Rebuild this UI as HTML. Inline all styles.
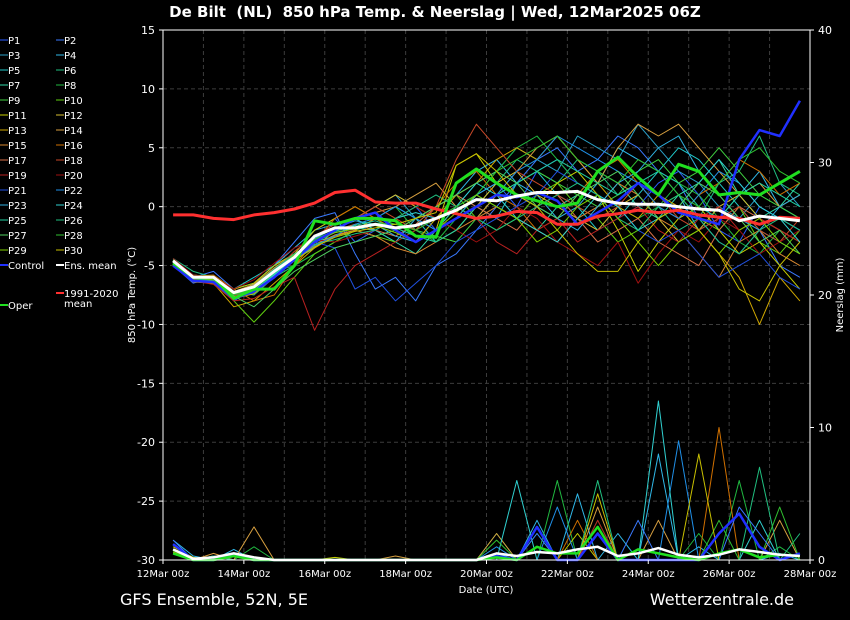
<!DOCTYPE html>
<html><head><meta charset="utf-8">
<style>
html,body{margin:0;padding:0;background:#000;}
body{width:850px;height:620px;overflow:hidden;position:relative;font-family:"Liberation Sans","DejaVu Sans",sans-serif;color:#fff;}
svg{position:absolute;left:0;top:0;}
</style></head>
<body>
<svg id="chart" width="850" height="620" xmlns="http://www.w3.org/2000/svg">
<text x="435" y="17" fill="#fff" font-size="15" font-weight="bold" text-anchor="middle" style="white-space:pre" font-family="DejaVu Sans, sans-serif">De Bilt  (NL)  850 hPa Temp. &amp; Neerslag | Wed, 12Mar2025 06Z</text>
<text transform="translate(135,295) rotate(-90)" fill="#fff" font-size="10" text-anchor="middle" font-family="DejaVu Sans, sans-serif">850 hPa Temp. (°C)</text>
<text transform="translate(843,295) rotate(-90)" fill="#fff" font-size="10" text-anchor="middle" font-family="DejaVu Sans, sans-serif">Neerslag (mm)</text>
<text x="486" y="593" fill="#fff" font-size="10" text-anchor="middle" font-family="DejaVu Sans, sans-serif">Date (UTC)</text>
<text x="120" y="605" fill="#fff" font-size="16" font-family="DejaVu Sans, sans-serif">GFS Ensemble, 52N, 5E</text>
<text x="794" y="605" fill="#fff" font-size="16" text-anchor="end" font-family="DejaVu Sans, sans-serif">Wetterzentrale.de</text>
<g id="grid"></g><g id="prec"></g><g id="temp"></g><g id="axes"></g><g id="legend"></g>
</svg>
<script>
const NS="http://www.w3.org/2000/svg";
const xLabels=["12Mar 00z","14Mar 00z","16Mar 00z","18Mar 00z","20Mar 00z","22Mar 00z","24Mar 00z","26Mar 00z","28Mar 00z"];
const yTicks=[15,10,5,0,-5,-10,-15,-20,-25,-30];
const y2Ticks=[0,10,20,30,40];
const memberNames=["P1","P2","P3","P4","P5","P6","P7","P8","P9","P10","P11","P12","P13","P14","P15","P16","P17","P18","P19","P20","P21","P22","P23","P24","P25","P26","P27","P28","P29","P30"];
const memberColors=["#2a5cff","#3a7aff","#2aa0c8","#30b8e8","#20c8c8","#20c080","#30d8a8","#20b840","#40d040","#60d010","#c8d000","#d8c030","#d0a800","#d8a040","#d88830","#d07000","#d87048","#c84828","#b82020","#a01010","#2050e0","#2090e8","#30b0e0","#30d0d0","#20d0a0","#20c080","#50d060","#30c030","#80d000","#c8c000"];
const members=[
[-5,-6.5,-6,-8,-7,-6,-4,-2,-1,-3,-2,-1,0,-2,-1,1,2,0,3,4,2,1,-1,0,2,3,1,-2,-3,0,-1,-2],
[-4.5,-6,-5.5,-7,-6.5,-5,-3,-1,-0.5,-4,-7,-6,-8,-5,-4,-2,0,2,4,5,3,4,6,5,3,2,-1,-3,-4,-2,-5,-6],
[-4.8,-6.2,-6.5,-7.5,-7,-5.5,-4,-3,-2,-1,0,1,-1,-2,0,2,3,5,4,3,6,5,4,7,5,3,2,0,-1,1,2,0],
[-4.6,-5.8,-6,-7.8,-6.5,-5,-3.5,-2,-1.5,-1,-2,-3,-1,0,1,3,4,2,1,-1,0,2,5,4,3,1,-2,-1,1,3,0,-1],
[-4.7,-6,-6.2,-7,-6,-5,-4,-3,-2.5,-2,-1,0,-1,-3,-2,0,-1,2,3,1,0,-2,-1,1,3,5,4,2,0,-2,-3,-4],
[-4.4,-5.5,-6,-7.2,-7.5,-6,-5,-4,-3,-2,-1.5,-2,-3,-1,1,0,2,4,3,2,4,3,1,2,0,-2,-1,2,3,6,2,1],
[-4.9,-6.3,-6.4,-7.6,-6.8,-5.8,-4.5,-3.5,-2,-1,-2,-3,-4,-2,0,1,0,-1,-2,0,1,3,2,0,-1,1,2,4,1,-1,0,2],
[-4.5,-6,-6,-7,-6.5,-5.5,-5,-4,-3,-2,-1,0,-2,-3,-1,1,3,5,6,4,2,1,0,-1,0,2,1,-1,-3,-4,-2,-3],
[-4.7,-6.1,-6.3,-7.4,-7,-5.7,-4.2,-2.8,-2,-1.5,-1,-1.5,-2,-2.5,-3,-1,1,2,3,2,1,0,1,3,4,2,3,5,3,1,0,-1],
[-4.6,-6,-6.5,-8,-9.8,-8,-6,-4,-3,-2,-2.5,-3,-2,0,1,-1,-2,-1,1,2,0,-1,-3,-2,0,1,-1,-2,0,-3,-4,-2],
[-4.8,-5.8,-6,-7,-6.5,-5,-4,-2,-1,0,-1,-2,-3,-2,3.5,4.5,2,1,0,2,3,1,-2,-5.5,-3,-1,0,-2,-4,-3,-5,-7],
[-4.5,-6,-6.2,-7.5,-7,-6,-4.5,-3,-2,-1,0,1,0,-1,-2,0,2,3,1,0,-1,-2,0,1,-1,-3,-2,0,1,-1,-2,-3],
[-4.9,-6.4,-6.5,-8.5,-8,-6.5,-5,-3.5,-2.5,-2,-1,-2,-3,-1,1,2,4,5,4,6,4,2,0,-1,1,0,-2,-4,-6,-10,-6,-8],
[-4.6,-6,-6,-7.2,-6.6,-5.2,-4,-3,-2,-1,-0.5,0,1,2,0,-1,1,3,5,6,4,2,5,7,6,7,5,3,1,2,0,1],
[-4.7,-6.2,-6.4,-7.8,-7.2,-5.9,-4.6,-3.2,-2.4,-2,-2.5,-3.5,-4,-3,-2,-1,0,-1,-2,-3,-1,0,2,1,-1,-2,-4,-6,-3,-2,-4,-5],
[-4.5,-5.9,-5.8,-7,-8,-7.5,-5,-3,-1,0,-1,-2,-1,0,2,3,1,0,-2,-1,1,3,4,2,0,-1,1,2,4,3,1,2],
[-4.8,-6.1,-6.2,-7.4,-7,-6,-4.5,-3,-2,-1.5,-2,-2.5,-1.5,0,1,0,-1,-2,0,1,-1,-3,-2,-1,-3,-4,-5,-2,0,-1,-2,-3],
[-4.6,-6,-6.3,-7.6,-6.9,-5.5,-3.8,-2.5,-1.5,-1,0,-1,-2,0,4,7,5,3,2,1,0,-1,0,2,1,-1,-2,-1,0,-2,-3,-1],
[-4.7,-6.3,-6.6,-8,-7.8,-6.8,-6,-10.5,-7,-5,-4,-3,-2,-1,0,-1,-3,-4,-2,-1,-3,-2,-1,0,-2,-3,-1,0,-2,-1,-2,-3],
[-4.4,-5.8,-6,-7,-6.2,-4.8,-3.5,-2.8,-3,-2.5,-2,-1,0,-1,-2,-3,-2,0,-1,-3,-4,-5,-3,-6.5,-4,-2,-3,-1,-2,-4,-3,-2],
[-4.6,-6,-6.2,-7.5,-7,-5.6,-4.2,-3,-3.5,-7,-6,-8,-6.5,-5,-3,-2,-1,0,1,3,2,1,0,-2,-3,-2,-4,-6,-5,-4,-6,-7],
[-4.8,-6.2,-6.3,-7.8,-7.3,-6,-4.5,-3.3,-2.5,-1.5,-1,0,-1,-2,-1,0,1,3,4,6,5,4,3,2,0,-1,1,3,2,0,-1,-2],
[-4.5,-5.9,-6.1,-7.2,-6.8,-5.4,-4.1,-2.7,-1.8,-1.2,-1.5,-2.5,-3,-2,-1,1,2,1,0,-1,-2,0,2,3,5,6,3,1,-1,-2,0,1],
[-4.7,-6.1,-6,-7.4,-7.1,-5.8,-4.4,-3,-2.2,-1.8,-2,-1,-0.5,-1,0,2,1,-1,-2,-3,-1,1,0,-2,-1,0,2,4,2,0,-1,-3],
[-4.6,-6,-6.4,-7.7,-7.2,-5.7,-4.3,-2.9,-2.1,-1.6,-1.2,-1.8,-2.5,-3,-2,0,1,2,3,4,3,2,1,2,3,2,0,-1,1,2,1,0],
[-4.8,-6.2,-6.2,-7.3,-6.7,-5.3,-4,-3.2,-2.8,-2.3,-2,-1,0,1,0,-1,-2,-1,0,1,2,1,-1,-2,0,1,-1,-3,-4,-2,-1,-2],
[-4.5,-6,-6.3,-7.6,-8.5,-7,-5.5,-4.5,-3.5,-3,-2.5,-2,-1,0,1,2,3,2,0,-1,1,2,3,1,-1,0,2,1,-1,-3,-2,-4],
[-4.7,-6.1,-6.1,-7.5,-7,-5.6,-4.2,-2.8,-2,-1.7,-1.4,-1.5,-2,-1,0,1,3,4,5,6,4,3,2,4,3,1,0,2,4,5,3,2],
[-4.6,-6,-6.2,-7.4,-6.9,-5.5,-4.1,-3,-2.2,-1.9,-1.6,-2.2,-3,-2,-0.5,1,0,-1,-3,-2,0,1,-1,-3,-5,-3,-2,-4,-2,-1,-3,-4],
[-4.8,-6.2,-6.4,-7.8,-7.4,-6,-4.6,-3.4,-2.6,-2.1,-1.8,-1.5,-1,-0.5,3.5,4.5,3,1,0,-2,-4,-5.5,-5.5,-3,-1,0,-2,-4,-7,-8,-5,-3]
];
const control=[-5,-6.3,-6.4,-7.8,-7.2,-6,-4.5,-3,-2,-1,-0.5,-2,-3,-2,-1,0,1,0.8,1.2,0.5,-1.5,-0.5,0.5,2,1,-0.5,-1,-1.5,4,6.5,6,9];
const ensMean=[-4.6,-6,-6,-7.3,-6.8,-5.5,-4.3,-2.5,-1.8,-1.8,-1.5,-1.8,-1.6,-1,-0.3,0.6,0.5,0.9,1.2,1.2,1.3,0.6,0.3,0.2,0.2,0,-0.2,-0.3,-1.2,-0.8,-1,-1.2];
const oper=[-4.8,-6,-6,-7.8,-7,-7,-5,-1.2,-1.5,-1,-1,-1.2,-2.5,-2.6,2,3.2,2,1,0.5,0,0.3,3,4.2,2.5,1,3.6,3,1,1.2,1,2,3];
const climMean=[-0.7,-0.7,-1,-1.1,-0.7,-0.5,-0.2,0.3,1.2,1.4,0.4,0.3,0.3,-0.2,-0.6,-1,-0.8,-0.4,-0.5,-1.5,-1.5,-0.8,-0.6,-0.3,-0.5,-0.3,-0.7,-0.9,-1,-1.5,-0.9,-1];
const precipMembers=[3,7,10,13,15,21,23,25,27,29,1,18];
const precipValues=[
[1.5,0.3,0,0.8,0,0,0,0,0,0,0,0,0,0,0,0,0.5,0,3,0,5,0,2,0,8,0,1,0,0,0,0.5,0],
[0.5,0,0.3,0,1,0,0,0,0,0,0,0,0,0,0,0,2,0,0,6,0,3,0,0,0,0,2,0,6,0,1,0],
[1,0.2,0,0.5,0,0,0,0,0.2,0,0,0,0,0,0,0,0,0,0,0,2,0,0,0,0,0,0,0,0,0,0,0],
[0.8,0,0.5,0,2.5,0,0,0,0,0,0,0.3,0,0,0,0,2,0,0,0,0,4,0,0,3,0,0,0,0,0,3,0],
[0.5,0,0.3,0,0,0,0,0,0,0,0,0,0,0,0,0,0,0,0,0,3,0,0,0,0,0,0,10,0,0,0,0],
[0.8,0,0.3,0,0,0,0,0,0,0,0,0,0,0,0,0,1,0,0,4,0,0,0,0,0,9,0,0,0,0,0,0],
[1.2,0,0,0.5,0,0,0,0,0,0,0,0,0,0,0,0,0,6,0,0,0,0,0,0,12,0,0,0,0,3,0,0],
[0.5,0,0.3,0,0,0,0,0,0,0,0,0,0,0,0,0,0,0,0,0,0,6,0,0,0,0,0,0,0,7,0,2],
[0.7,0,0,0.4,0,0,0,0,0,0,0,0,0,0,0,0,1.5,0,2,0,0,2,0,0,0,0,0,3,0,0,4,0],
[0.6,0,0,0,0,0,0,0,0,0,0,0,0,0,0,0,0,0,0,0,0,5,0,0,0,0,8,0,0,0,0,0],
[1.5,0,0,0.5,0,0,0,0,0,0,0,0,0,0,0,0,0,0,2,0,0,0,0,3,0,0,0,0,4,2,0,0],
[0,0,0,0,0,0,0,0,0,0,0,0,0,0,0,0,0,0,0,0,0,3,0,0,0,0,0,0,0,0,0,0]
];
const controlPrecip=[1.2,0,0,0.5,0,0,0,0,0,0,0,0,0,0,0,0,0.3,0,2.5,0,0,2,0,0,0,0,0,2,3.5,1,0,0.5];
const meanPrecip=[0.8,0.1,0.2,0.5,0.2,0,0,0,0,0,0,0,0,0,0,0,0.5,0.3,0.6,0.5,0.8,1,0.3,0.5,0.9,0.4,0.2,0.4,0.8,0.6,0.4,0.3];
const operPrecip=[0.5,0,0,0.3,0,0,0,0,0,0,0,0,0,0,0,0,0.2,0,1,0.5,0.5,2.5,0,0.8,0.5,0.2,0,0.5,0.8,0.2,0.4,0.3];

const X0=163,X1=810,YT=30,YB=560;
const xDay=d=>X0+(X1-X0)*d/16;
const yT=v=>YT+(15-v)*(YB-YT)/45;
const yP=v=>YB-v*(YB-YT)/40;
const tDay=i=>0.25+0.5*i;
function el(tag,attrs,parent){const e=document.createElementNS(NS,tag);for(const k in attrs)e.setAttribute(k,attrs[k]);parent.appendChild(e);return e;}
const grid=document.getElementById('grid'),axes=document.getElementById('axes'),temp=document.getElementById('temp'),prec=document.getElementById('prec'),leg=document.getElementById('legend');
for(let d=1;d<16;d++){const l=el('line',{x1:xDay(d),x2:xDay(d),y1:YT,y2:YB,stroke:'#3c3c3c','stroke-dasharray':'4,3'},grid);

}
yTicks.forEach(v=>{const y=yT(v);
const l=el('line',{x1:X0,x2:X1,y1:y,y2:y,stroke:'#3c3c3c','stroke-dasharray':'4,3'},grid);


const t=el('text',{x:X0-8,y:y+4,fill:'#fff','font-size':11,'text-anchor':'end','font-family':'DejaVu Sans, sans-serif'},axes);t.textContent=v;


el('line',{x1:X0-4,x2:X0,y1:y,y2:y,stroke:'#fff'},axes);});
y2Ticks.forEach(v=>{const y=yP(v);
const t=el('text',{x:X1+8,y:y+4,fill:'#fff','font-size':11,'font-family':'DejaVu Sans, sans-serif'},axes);t.textContent=v;


el('line',{x1:X1,x2:X1+4,y1:y,y2:y,stroke:'#fff'},axes);});
xLabels.forEach((s,i)=>{const x=xDay(i*2);
const t=el('text',{x:x,y:577,fill:'#fff','font-size':10,'text-anchor':'middle','font-family':'DejaVu Sans, sans-serif'},axes);t.textContent=s;


el('line',{x1:x,x2:x,y1:YB,y2:YB+4,stroke:'#fff'},axes);});
const fr=el('rect',{x:X0,y:YT,width:X1-X0,height:YB-YT,fill:'none',stroke:'#fff','stroke-width':1},axes);


function poly(arr,f,color,w,parent,name){const pts=arr.map((v,i)=>xDay(tDay(i)).toFixed(1)+','+f(v).toFixed(1)).join(' ');
const p=el('polyline',{points:pts,fill:'none',stroke:color,'stroke-width':w,'stroke-linejoin':'round'},parent);

return p;}
precipValues.forEach((arr,k)=>poly(arr,yP,memberColors[precipMembers[k]],1,prec,'precip-'+memberNames[precipMembers[k]].toLowerCase()));
poly(controlPrecip,yP,'#2030ff',2.5,prec,'precip-control');
poly(operPrecip,yP,'#20e020',2.5,prec,'precip-oper');
poly(meanPrecip,yP,'#ffffff',2.5,prec,'precip-ens-mean');
members.forEach((arr,k)=>poly(arr,yT,memberColors[k],1,temp,'temp-'+memberNames[k].toLowerCase()));
poly(control,yT,'#2030ff',2.5,temp,'temp-control');
poly(climMean,yT,'#ff3030',3,temp,'temp-climate-mean');
poly(oper,yT,'#20e020',3,temp,'temp-oper');
poly(ensMean,yT,'#ffffff',3,temp,'temp-ens-mean');
function legItem(x,y,color,w,label){const g=el('g',{},leg);


el('line',{x1:x-8,x2:x,y1:y,y2:y,stroke:color,'stroke-width':w},g);
const t=el('text',{x:x,y:y+4,fill:'#fff','font-size':10,'font-family':'DejaVu Sans, sans-serif'},g);t.textContent=label;}
memberNames.forEach((n,k)=>{const col=k%2,row=Math.floor(k/2);legItem(col?64:8,40+row*15,memberColors[k],1,n);});
legItem(8,265,'#2030ff',2,'Control');legItem(64,265,'#ffffff',2,'Ens. mean');
legItem(8,305,'#20e020',2,'Oper');legItem(64,293,'#ff3030',2,'1991-2020');
const mt=el('text',{x:64,y:307,fill:'#fff','font-size':10,'font-family':'DejaVu Sans, sans-serif'},leg);mt.textContent='mean';
</script>
</body></html>
